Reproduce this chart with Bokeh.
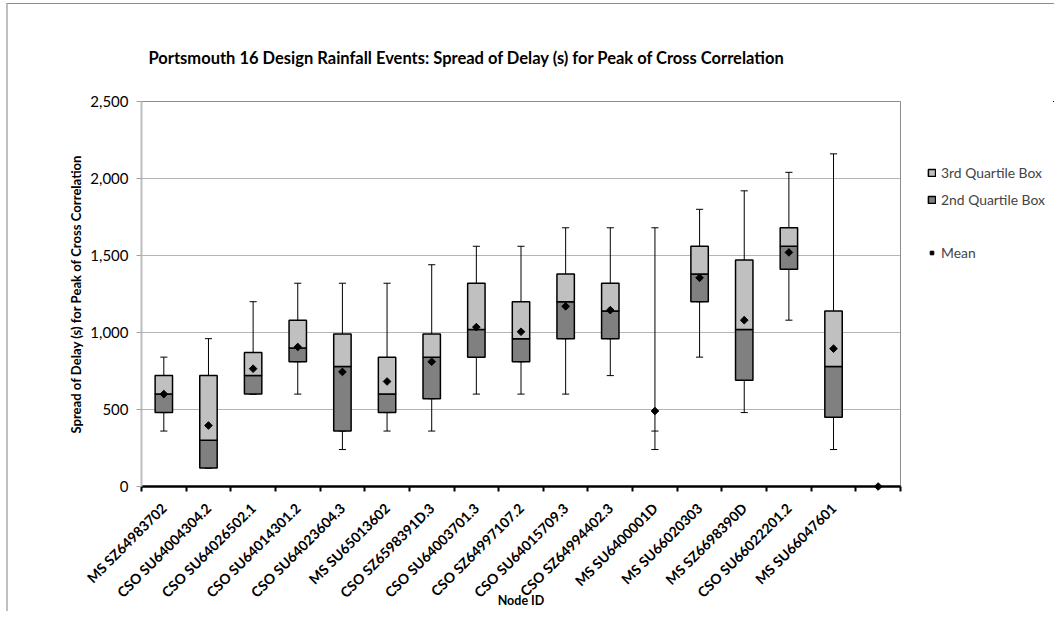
import math
import numpy as np
from bokeh.plotting import figure
from bokeh.layouts import row
from bokeh.models import (ColumnDataSource, FixedTicker, NumeralTickFormatter,
                          Legend, LegendItem, Range1d, Title)
from bokeh.embed import file_html
from bokeh.resources import INLINE

# ---------------- data (seconds) ----------------
nodes = ["MS SZ64983702", "CSO SU64004304.2", "CSO SU64026502.1", "CSO SU64014301.2",
         "CSO SU64023604.3", "MS SU65013602", "CSO SZ6598391D.3", "CSO SU64003701.3",
         "CSO SZ64997107.2", "CSO SU64015709.3", "CSO SZ64994402.3", "MS SU6400001D",
         "MS SU66020303", "MS SZ6698390D", "CSO SU66022201.2", "MS SU66047601", ""]
w_min = [360, 120, 600, 600, 240, 360, 360, 600, 600, 600, 720, 240, 840, 480, 1080, 240, np.nan]
q1 = [480, 120, 600, 810, 360, 480, 570, 840, 810, 960, 960, 360, 1200, 690, 1410, 450, np.nan]
median = [600, 300, 720, 900, 780, 600, 840, 1020, 960, 1200, 1140, 360, 1380, 1020, 1560, 780, np.nan]
q3 = [720, 720, 870, 1080, 990, 840, 990, 1320, 1200, 1380, 1320, 360, 1560, 1470, 1680, 1140, np.nan]
w_max = [840, 960, 1200, 1320, 1320, 1320, 1440, 1560, 1560, 1680, 1680, 1680, 1800, 1920, 2040, 2160, np.nan]
mean = [600, 396, 765, 906, 744, 682, 810, 1035, 1005, 1170, 1145, 490, 1355, 1080, 1520, 895, 0]
y_ticks = [0, 500, 1000, 1500, 2000, 2500]
legend_labels = ["3rd Quartile Box", "2nd Quartile Box", " ", "Mean"]

title_text = "Portsmouth 16 Design Rainfall Events: Spread of Delay (s) for Peak of Cross Correlation"
y_title = "Spread of Delay (s) for Peak of Cross Correlation"
x_title = "Node ID"

FONT = "Lato"
LIGHT = "#C0C0C0"
DARK = "#808080"

n = len(nodes)
centers = np.arange(n) + 0.5
q1a = np.array(q1, dtype=float)
q3a = np.array(q3, dtype=float)
meda = np.array(median, dtype=float)
box_ok = q3a > q1a
b_q1 = np.where(box_ok, q1a, np.nan)
b_med = np.where(box_ok, meda, np.nan)
b_q3 = np.where(box_ok, q3a, np.nan)

src = ColumnDataSource(dict(x=centers, lo=w_min, hi=w_max, q1=b_q1, med=b_med, q3=b_q3,
                            mean=mean))
cap_w = 0.08
caps = ColumnDataSource(dict(
    x0=np.concatenate([centers - cap_w] * 3),
    x1=np.concatenate([centers + cap_w] * 3),
    y=np.concatenate([np.array(w_min, float), np.array(w_max, float), q1a]),
))

p = figure(frame_width=759, frame_height=385, output_backend="svg", toolbar_location=None,
           x_range=Range1d(0, n), y_range=Range1d(0, 2500), title=None,
           min_border_left=133, min_border_right=2, min_border_top=97, min_border_bottom=122,
           background_fill_color="white", border_fill_color="white")
p.add_layout(Title(text=" ", text_font_size="16px"), "above")
p.add_layout(Title(text=title_text, align="left", offset=7, text_font=FONT,
                   text_font_style="bold", text_font_size="16.5px", text_color="black"),
             "above")

p.outline_line_color = "#8C8C8C"
p.outline_line_width = 1
p.xgrid.visible = False
p.ygrid.grid_line_color = "#B4B4B4"
p.ygrid.grid_line_width = 1
p.ygrid.ticker = FixedTicker(ticks=y_ticks)

# whiskers
p.segment(x0="x", y0="lo", x1="x", y1="hi", source=src, line_color="black", line_width=1)
p.segment(x0="x0", y0="y", x1="x1", y1="y", source=caps, line_color="black", line_width=1)
# boxes
box2 = dict(fill_color=DARK, line_color="black", line_width=1.5)
box3 = dict(fill_color=LIGHT, line_color="black", line_width=1.5)
mean_style = dict(marker="square", angle=math.pi / 4, fill_color="black", line_color="black")
p.vbar(x="x", bottom="q1", top="med", width=0.39, source=src, **box2)
p.vbar(x="x", bottom="med", top="q3", width=0.39, source=src, **box3)
p.scatter(x="x", y="mean", source=src, size=5.4, level="overlay", **mean_style)

# axes
xa = p.xaxis[0]
xa.ticker = FixedTicker(ticks=list(centers), minor_ticks=list(range(n + 1)))
xa.major_label_overrides = {float(c): lab for c, lab in zip(centers, nodes)}
xa.major_label_orientation = math.pi / 4
xa.major_tick_line_color = None
xa.minor_tick_line_color = "black"
xa.minor_tick_line_width = 2
xa.minor_tick_out = 5
xa.minor_tick_in = 0
xa.axis_line_color = "black"
xa.axis_line_width = 2.5
xa.major_label_standoff = 13
xa.major_label_text_font = FONT
xa.major_label_text_font_style = "bold"
xa.major_label_text_font_size = "14px"
xa.major_label_text_color = "black"
xa.axis_label = x_title
xa.axis_label_text_font = FONT
xa.axis_label_text_font_style = "bold"
xa.axis_label_text_font_size = "12.5px"
xa.axis_label_text_color = "black"
xa.axis_label_standoff = -17

ya = p.yaxis[0]
ya.ticker = FixedTicker(ticks=y_ticks)
ya.formatter = NumeralTickFormatter(format="0,0")
ya.axis_line_color = "#BEBEBE"
ya.axis_line_width = 2
ya.major_tick_line_color = "#A0A0A0"
ya.major_tick_out = 5
ya.major_tick_in = 0
ya.minor_tick_line_color = None
ya.major_label_standoff = 8
ya.major_label_text_font = FONT
ya.major_label_text_font_size = "15px"
ya.major_label_text_color = "black"
ya.axis_label = y_title
ya.axis_label_text_font = FONT
ya.axis_label_text_font_style = "bold"
ya.axis_label_text_font_size = "13.1px"
ya.axis_label_text_color = "black"
ya.axis_label_standoff = 3

# ---------------- legend panel (its frame is aligned with the main plot frame) ----------------
# The legend's own renderers share the data source but the view ranges hold none of it,
# so only the legend entries are visible here.
lg = figure(width=152, height=607, output_backend="svg", toolbar_location=None,
            x_range=Range1d(-2, -1), y_range=Range1d(-2, -1), x_axis_type=None,
            y_axis_type=None, min_border=0, outline_line_color=None,
            background_fill_color="white", border_fill_color="white")
lg.grid.visible = False
l3 = lg.vbar(x="x", bottom="med", top="q3", width=0.39, source=src, **box3)
l2 = lg.vbar(x="x", bottom="q1", top="med", width=0.39, source=src, **box2)
lb = lg.scatter(x="x", y="mean", source=src, marker="square", fill_alpha=0, line_alpha=0)
lm = lg.scatter(x="x", y="mean", source=src, size=7, **mean_style)
legend = Legend(items=[LegendItem(label=t, renderers=[r])
                       for t, r in zip(legend_labels, [l3, l2, lb, lm])],
                location=(25, 226), padding=0, margin=0, spacing=10,
                label_height=16, glyph_height=9, glyph_width=9, label_standoff=5,
                label_text_font=FONT, label_text_font_size="13.9px",
                border_line_color=None, background_fill_alpha=0)
lg.add_layout(legend, "center")

layout = row(p, lg, styles={"margin-left": "6px", "margin-top": "3px",
                            "border-top": "1px solid #8c8c8c",
                            "border-left": "2px solid #c0c0c0"})

open("out.html", "w").write(file_html(layout, INLINE))
